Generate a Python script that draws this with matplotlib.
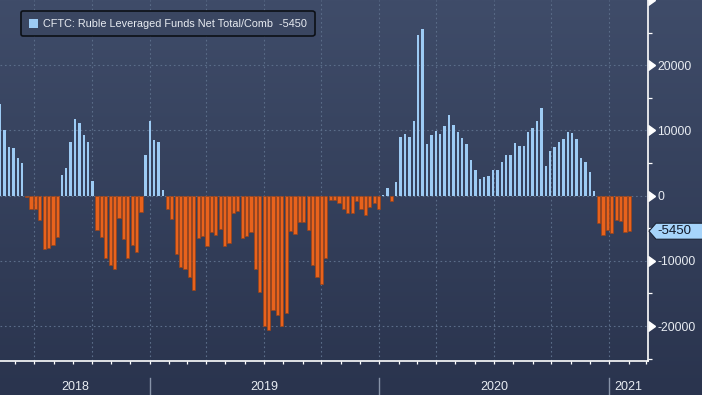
import matplotlib.pyplot as plt
import matplotlib.dates as mdates
import numpy as np
import pandas as pd
from matplotlib.patches import Patch, Polygon
from matplotlib.ticker import FuncFormatter, FixedLocator, MultipleLocator, NullFormatter
from matplotlib.transforms import IdentityTransform

# Weekly CFTC report dates (Tuesdays) and leveraged funds net position
dates = pd.date_range(end='2021-02-02', periods=144, freq='7D')
net = [
    14000, 10000, 7400, 7300, 5800, 5000, -200, -2100, -2000, -3700,
    -8200, -8100, -7500, -6300, 3200, 4200, 8200, 11800, 11100, 9300,
    8200, 2300, -5300, -6400, -9600, -10700, -11300, -3400, -6700, -9600,
    -7500, -8700, -2500, 6300, 11500, 8600, 8200,
    900, -2100, -3600, -8900, -11000, -11200, -12500, -14400, -6500, -6200,
    -7700, -5600, -6000, -5100, -7700, -7300, -2600, -2400, -6500, -6200,
    -5600, -11200, -14800, -20000, -20600, -17500, -18300, -20000, -18000, -5400,
    -5900, -4100, -4100, -5300, -10600, -12400, -13600, -9500, -600, -600,
    -1100, -2100, -2700, -2600, -800, -2100, -2900, -1700, -1200, -2000,
    100, 1100, -800, 2100,
    9000, 9400, 9000, 11400, 24700, 25500, 7900, 9300, 9900, 9400,
    10700, 12300, 10800, 9700, 8800, 7900, 5500, 3900, 2600, 2900,
    3000, 3900, 3900, 5200, 6200, 6200, 8100, 7600, 7600, 9700,
    10400, 11400, 13400, 4500, 6800, 7400, 8200, 8700, 9700, 9600,
    8700, 5800, 5200, 3600, 700,
    -4200, -6000, -5300, -5700, -3800, -3900, -5500, -5450,
]
last_value = -5450
series_name = 'CFTC: Ruble Leveraged Funds Net Total/Comb'
years = [2018, 2019, 2020, 2021]
y_major = [-20000, -10000, 0, 10000, 20000]

# Colours
blue = '#9dcbf4'
orange = '#e8621c'
text_col = '#e8ecf2'
grid_col = '#5b6d89'

plt.rcParams['font.family'] = 'Liberation Sans'

W, H = 702, 395
fig = plt.figure(figsize=(W / 100, H / 100), dpi=100)

# gradient background
bg = fig.add_axes([0, 0, 1, 1], zorder=-10)
top = np.array([0x3f, 0x4c, 0x69]) / 255
bot = np.array([0x2a, 0x34, 0x4e]) / 255
t = np.linspace(0, 1, 256)[:, None]
grad = top[None, :] * (1 - t) + bot[None, :] * t
bg.imshow(grad[:, None, :], aspect='auto', extent=[0, 1, 0, 1])
bg.axis('off')

ax = fig.add_axes([0, 34 / H, 648 / W, 361 / H])
ax.set_facecolor('none')

x = mdates.date2num(dates)
vals = np.array(net)
pos = vals >= 0
ax.bar(x[pos], vals[pos], width=3.6, color=blue, linewidth=0, zorder=3)
ax.bar(x[~pos], vals[~pos], width=4.9, color=orange, edgecolor='#9a4318',
       linewidth=0.5, zorder=3)

# scale: ~0.6286 px per day
left = x[0] - 0.3
ax.set_xlim(left, left + 648 / 0.6286)
ax.set_ylim(-25350, 30000)

ax.xaxis.set_major_locator(mdates.MonthLocator(bymonth=[1, 4, 7, 10]))
ax.xaxis.set_minor_locator(mdates.MonthLocator())
ax.xaxis.set_major_formatter(NullFormatter())
ax.tick_params(axis='x', which='both', direction='out', length=2.5, width=0.9,
               color='white')

ax.yaxis.tick_right()
ax.yaxis.set_major_locator(FixedLocator(y_major))
ax.yaxis.set_minor_locator(MultipleLocator(5000))
ax.yaxis.set_major_formatter(FuncFormatter(lambda v, p: f'{int(v)}'))
ax.tick_params(axis='y', which='major', length=0, pad=6.6, labelsize=8.8,
               labelcolor=text_col)
ax.tick_params(axis='y', which='minor', direction='out', length=3, width=0.9,
               color='white')

ax.grid(True, which='major', color=grid_col, linestyle=(0, (1.5, 2.5)), linewidth=0.8)
ax.set_axisbelow(True)

for s in ['top', 'left']:
    ax.spines[s].set_visible(False)
for s in ['bottom', 'right']:
    ax.spines[s].set_color('white')
    ax.spines[s].set_linewidth(1.2)

# triangle markers on the right axis
tri_y = y_major + [30000]
ax.plot(np.ones(len(tri_y)), tri_y, ls='none', marker=9, ms=7, color='white',
        transform=ax.get_yaxis_transform(), clip_on=False, zorder=5)

# year labels and separators
xmin, xmax = ax.get_xlim()
edges = [xmin] + [mdates.date2num(pd.Timestamp(f'{y}-01-01')) for y in years[1:]] + [xmax]
for i, y in enumerate(years):
    mid = (edges[i] + edges[i + 1]) / 2
    ax.text(mid, -0.072, str(y), transform=ax.get_xaxis_transform(), ha='center',
            va='center', fontsize=9, color=text_col)
for e in edges[1:-1]:
    ax.plot([e, e], [-0.047, -0.1], transform=ax.get_xaxis_transform(),
            color='#8793a8', lw=1, clip_on=False)

# legend
leg = ax.legend(handles=[Patch(facecolor=blue, edgecolor='none')],
                labels=[f'{series_name}  {last_value}'],
                loc='upper left', bbox_to_anchor=(21 / 648, 1 - 11 / 361),
                borderaxespad=0, fontsize=7.8, labelcolor=text_col,
                handlelength=0.9, handleheight=0.9, handletextpad=0.45,
                borderpad=0.7, fancybox=True, framealpha=1)
leg.get_frame().set_facecolor('#3a4661')
leg.get_frame().set_edgecolor('#0c1016')
leg.get_frame().set_linewidth(1.2)

# last value tag on the right axis
yp = ax.transData.transform((0, last_value))[1]
tag = Polygon([(649, yp), (656, yp + 8), (W + 2, yp + 8), (W + 2, yp - 8), (656, yp - 8)],
              closed=True, facecolor='#a6d4fa', edgecolor='#1b2233', lw=0.8,
              transform=IdentityTransform(), zorder=6)
fig.add_artist(tag)
fig.text(657, yp, str(last_value), transform=IdentityTransform(), ha='left',
         va='center', fontsize=9.5, color='#111827', zorder=7)

fig.savefig('out.png', dpi=100)
